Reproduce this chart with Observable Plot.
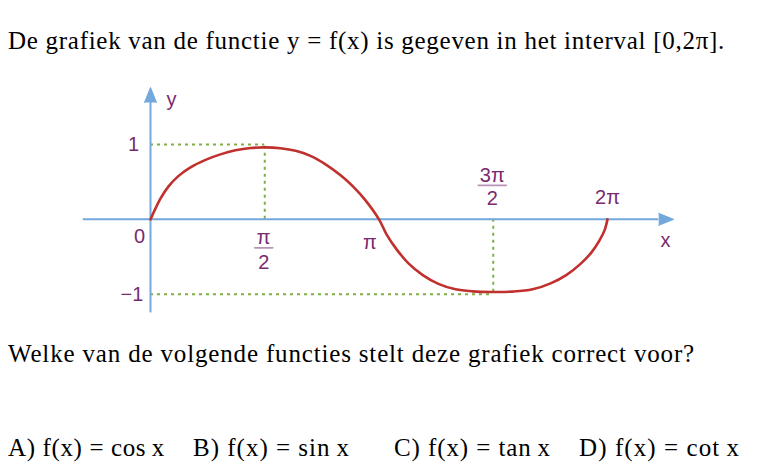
<!DOCTYPE html>
<html><head><meta charset="utf-8">
<script src="https://cdn.jsdelivr.net/npm/d3@7"></script>
<script src="https://cdn.jsdelivr.net/npm/@observablehq/plot@0.6"></script>
<style>
html,body{margin:0;padding:0;background:#fff;width:778px;height:474px;overflow:hidden;}
.t{position:absolute;left:8px;white-space:nowrap;font-family:"Liberation Serif",serif;color:#000;font-size:25px;line-height:25px;}
#chart{position:absolute;left:0;top:75px;}
</style></head><body>
<div class="t" id="title" style="top:28px" data-w="717">De grafiek van de functie y = f(x) is gegeven in het interval [0,2π].</div>
<div id="chart"></div>
<div class="t" id="question" style="top:341px" data-w="687">Welke van de volgende functies stelt deze grafiek correct voor?</div>
<div id="answers"></div>
<script>
// ---- data ----
const PI = Math.PI;
// curve samples: x in multiples of π, y value
const curveXpi = [0, 0.022, 0.044, 0.079, 0.123, 0.175, 0.241, 0.306, 0.372, 0.438, 0.503, 0.569, 0.635, 0.700, 0.766, 0.832, 0.888, 0.941, 1.0,
                  1.033, 1.077, 1.129, 1.190, 1.260, 1.335, 1.409, 1.497, 1.584, 1.672, 1.751, 1.821, 1.882, 1.930, 1.965, 1.987, 2.0];
const curveY   = [0, 0.147, 0.281, 0.441, 0.581, 0.695, 0.795, 0.868, 0.922, 0.953, 0.962, 0.949, 0.915, 0.848, 0.735, 0.588, 0.434, 0.254, 0,
                  -0.200, -0.401, -0.588, -0.741, -0.862, -0.935, -0.962, -0.970, -0.965, -0.935, -0.855, -0.741, -0.595, -0.441, -0.281, -0.147, 0];
// tick labels
const yTickValues = [1, 0, -1];
const yTickLabels = ["1", "0", "\u22121"];
const plainTickValues = [PI, 2 * PI];
const plainTickLabels = ["\u03c0", "2\u03c0"];
const fracTickValues = [PI / 2, 3 * PI / 2];
const fracNumerators = ["\u03c0", "3\u03c0"];
const fracDenominators = ["2", "2"];
// dotted guide lines to the extremes
const guideX = [PI / 2, 3 * PI / 2];
const guideY = [1, -1];
// axis extents
const xAxisExtent = [-0.294 * PI, 2.224 * PI];
const yAxisExtent = [-1.25, 1.561];
const answers = ["A) f(x) = cos\u2009x", "B) f(x) = sin\u2009x", "C) f(x) = tan\u2009x", "D) f(x) = cot\u2009x"];

// ---- styles ----
const BLUE = "#72a8dc", RED = "#c0302d", GREEN = "#7fae48", PURPLE = "#7a2b70", BAR = "#b993b6";
const curve = curveXpi.map((v, i) => ({x: v * PI, y: curveY[i]}));
const guides = guideX.map((gx, i) => ({x: gx, y: guideY[i]}));

const labelFont = {fontFamily: "Liberation Sans, Arial, sans-serif", fontSize: 20, fill: PURPLE};
const barShape = {draw(ctx, l) { ctx.moveTo(0, 0); ctx.lineTo(0, -l); }};

const yLabelOffsets = [{dx: -17, dy: 0}, {dx: -11, dy: 17}, {dx: -18.5, dy: 0}];
const plainOffsets = [{dx: -9, dy: 23.5}, {dx: 0, dy: -21.5}];
const fracOffsets = [{num: 18, bar: 28.5, den: 43, dx: -1, len: 18}, {num: -44, bar: -34, den: -21, dx: -1, len: 28}];

const marks = [
  Plot.ruleY(guides, {y: "y", x1: 0, x2: "x", stroke: GREEN, strokeWidth: 2, strokeDasharray: "3,4"}),
  Plot.ruleX(guides, {x: "x", y1: 0, y2: "y", stroke: GREEN, strokeWidth: 2, strokeDasharray: "3,4"}),
  Plot.ruleY([0], {x1: xAxisExtent[0], x2: xAxisExtent[1], stroke: BLUE, strokeWidth: 2}),
  Plot.ruleX([0], {y1: yAxisExtent[0], y2: yAxisExtent[1], stroke: BLUE, strokeWidth: 2}),
  Plot.vector([{x: xAxisExtent[1], y: 0, r: 90}, {x: 0, y: yAxisExtent[1], r: 0}],
    {x: "x", y: "y", rotate: "r", length: 15, anchor: "start", shape: "spike", r: 6, fill: BLUE, stroke: BLUE, strokeWidth: 1}),
  Plot.line(curve, {x: "x", y: "y", stroke: RED, strokeWidth: 2.6, curve: "catmull-rom"}),
  ...yTickValues.map((v, i) => Plot.text([v], {x: 0, y: d => d, text: () => yTickLabels[i], ...labelFont, ...yLabelOffsets[i]})),
  ...plainTickValues.map((v, i) => Plot.text([v], {x: d => d, y: 0, text: () => plainTickLabels[i], ...labelFont, ...plainOffsets[i]})),
  ...fracTickValues.map((v, i) => Plot.text([v], {x: d => d, y: 0, text: () => fracNumerators[i], ...labelFont, dx: fracOffsets[i].dx, dy: fracOffsets[i].num})),
  ...fracTickValues.map((v, i) => Plot.text([v], {x: d => d, y: 0, text: () => fracDenominators[i], ...labelFont, dx: fracOffsets[i].dx, dy: fracOffsets[i].den})),
  ...fracTickValues.map((v, i) => Plot.vector([v], {x: d => d, y: 0, rotate: 90, anchor: "middle", length: fracOffsets[i].len, shape: barShape, stroke: BAR, strokeWidth: 1.6, dx: fracOffsets[i].dx, dy: fracOffsets[i].bar})),
  Plot.text(["x"], {x: 2.289 * PI, y: 0, text: d => d, ...labelFont, dx: -8, dy: 21}),
  Plot.text(["y"], {x: 0, y: 1.748, text: d => d, ...labelFont, dx: 21, dy: 11})
];

const chart = Plot.plot({
  width: 778, height: 250,
  marginLeft: 150, marginRight: 171, marginTop: 69, marginBottom: 31.3,
  x: {domain: [0, 2 * PI], axis: null},
  y: {domain: [-1, 1], axis: null},
  style: {background: "transparent", overflow: "visible"},
  marks
});
document.getElementById("chart").appendChild(chart);

// answers row
const answerX = [8, 193, 394, 579];
const answerW = [157, 157, 157, 161];
const ans = document.getElementById("answers");
answers.forEach((a, i) => {
  const d = document.createElement("div");
  d.className = "t"; d.textContent = a;
  d.style.left = answerX[i] + "px"; d.style.top = "435px"; d.dataset.w = answerW[i];
  ans.appendChild(d);
});
// fit text widths to the reference
document.querySelectorAll(".t").forEach(el => {
  const target = +el.dataset.w;
  const w = el.getBoundingClientRect().width;
  const n = [...el.textContent].length;
  el.style.letterSpacing = ((target - w) / n) + "px";
});
</script>
</body></html>
